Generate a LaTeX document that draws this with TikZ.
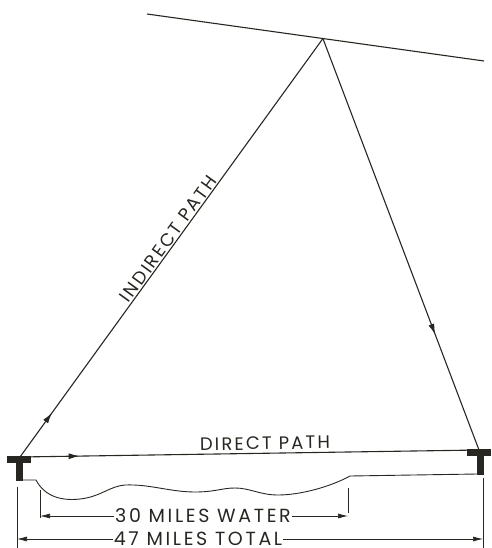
\documentclass[tikz,border=0pt]{standalone}
\usepackage{fontspec}
\newfontfamily\pathfont[LetterSpace=12]{Poppins}
\newfontfamily\dimfont[LetterSpace=14]{Poppins}
\usetikzlibrary{arrows.meta,decorations.markings,calc}
\definecolor{Ink}{RGB}{40,38,32}
\tikzset{
  ray/.style={Ink,line width=1.1pt},
  midarrow/.style={postaction={decorate},decoration={markings,
    mark=at position #1 with {\arrow{Latex[length=11pt,width=6pt]}}}},
  mast/.style={fill=Ink},
  dimline/.style={Ink,line width=0.7pt},
  tip/.style={-{Latex[length=10pt,width=5pt]}},
  lbl/.style={font=\pathfont\fontsize{18}{18}\selectfont,text=Ink,inner sep=1pt},
  dimlbl/.style={font=\dimfont\fontsize{19}{19}\selectfont,text=Ink,
    inner sep=1pt,text height=13pt,text depth=0pt},
}

\begin{document}
\begin{tikzpicture}[x=1pt,y=-1pt]
  \useasboundingbox (0,0) rectangle (491,548);
  % the two masts
  \fill[mast] (7,456) rectangle (31,463);
  \fill[mast] (16,460) rectangle (23,481);
  \fill[mast] (467,449) rectangle (491,456);
  \fill[mast] (477,452) rectangle (484,475);
  \coordinate (sender) at (20,457);
  \coordinate (receiver) at (479,450);
  % reflecting layer
  \coordinate (skyL) at (147,14);
  \coordinate (skyR) at (484,61);
  \draw[ray] (skyL) -- (skyR);
  \coordinate (bounce) at ($(skyL)!0.522!(skyR)$);
  % paths
  \draw[ray,midarrow=0.106] (sender) -- (bounce)
    node[lbl,sloped,above,pos=0.51] {INDIRECT PATH};
  \draw[ray,midarrow=0.72] (bounce) -- (receiver);
  \draw[ray,midarrow=0.13] (sender) -- (receiver)
    node[lbl,sloped,above=2pt,pos=0.534] {DIRECT PATH};
  % ground and water
  \draw[ray,line width=0.9pt] (23,480) -- (36,480)
    .. controls (45,497) and (62,501) .. (80,499)
    .. controls (100,497) and (110,486) .. (125,485)
    .. controls (150,484) and (170,492) .. (195,492)
    .. controls (215,492) and (222,488) .. (235,488)
    .. controls (250,488) and (260,495) .. (278,495)
    .. controls (300,495) and (330,487) .. (350,476) -- (477,474);
  % dimensions
  \coordinate (wl) at (40,490);
  \coordinate (wr) at (348,488);
  \coordinate (tl) at (17,487);
  \coordinate (tr) at (483,478);
  \draw[dimline] (wl) -- ++(0,28);
  \draw[dimline] (wr) -- ++(0,25);
  \draw[dimline] (tl) -- ++(0,61);
  \draw[dimline] (tr) -- ++(0,70);
  \node[dimlbl] (water) at (203,516) {30 MILES WATER};
  \node[dimlbl] (total) at (198,539) {47 MILES TOTAL};
  \draw[dimline,tip] (water.west) -- (water.west -| wl);
  \draw[dimline,tip] (water.east) -- (water.east -| wr);
  \draw[dimline,tip] (total.west) -- (total.west -| tl);
  \draw[dimline,tip] (total.east) -- (total.east -| tr);
\end{tikzpicture}
\end{document}
